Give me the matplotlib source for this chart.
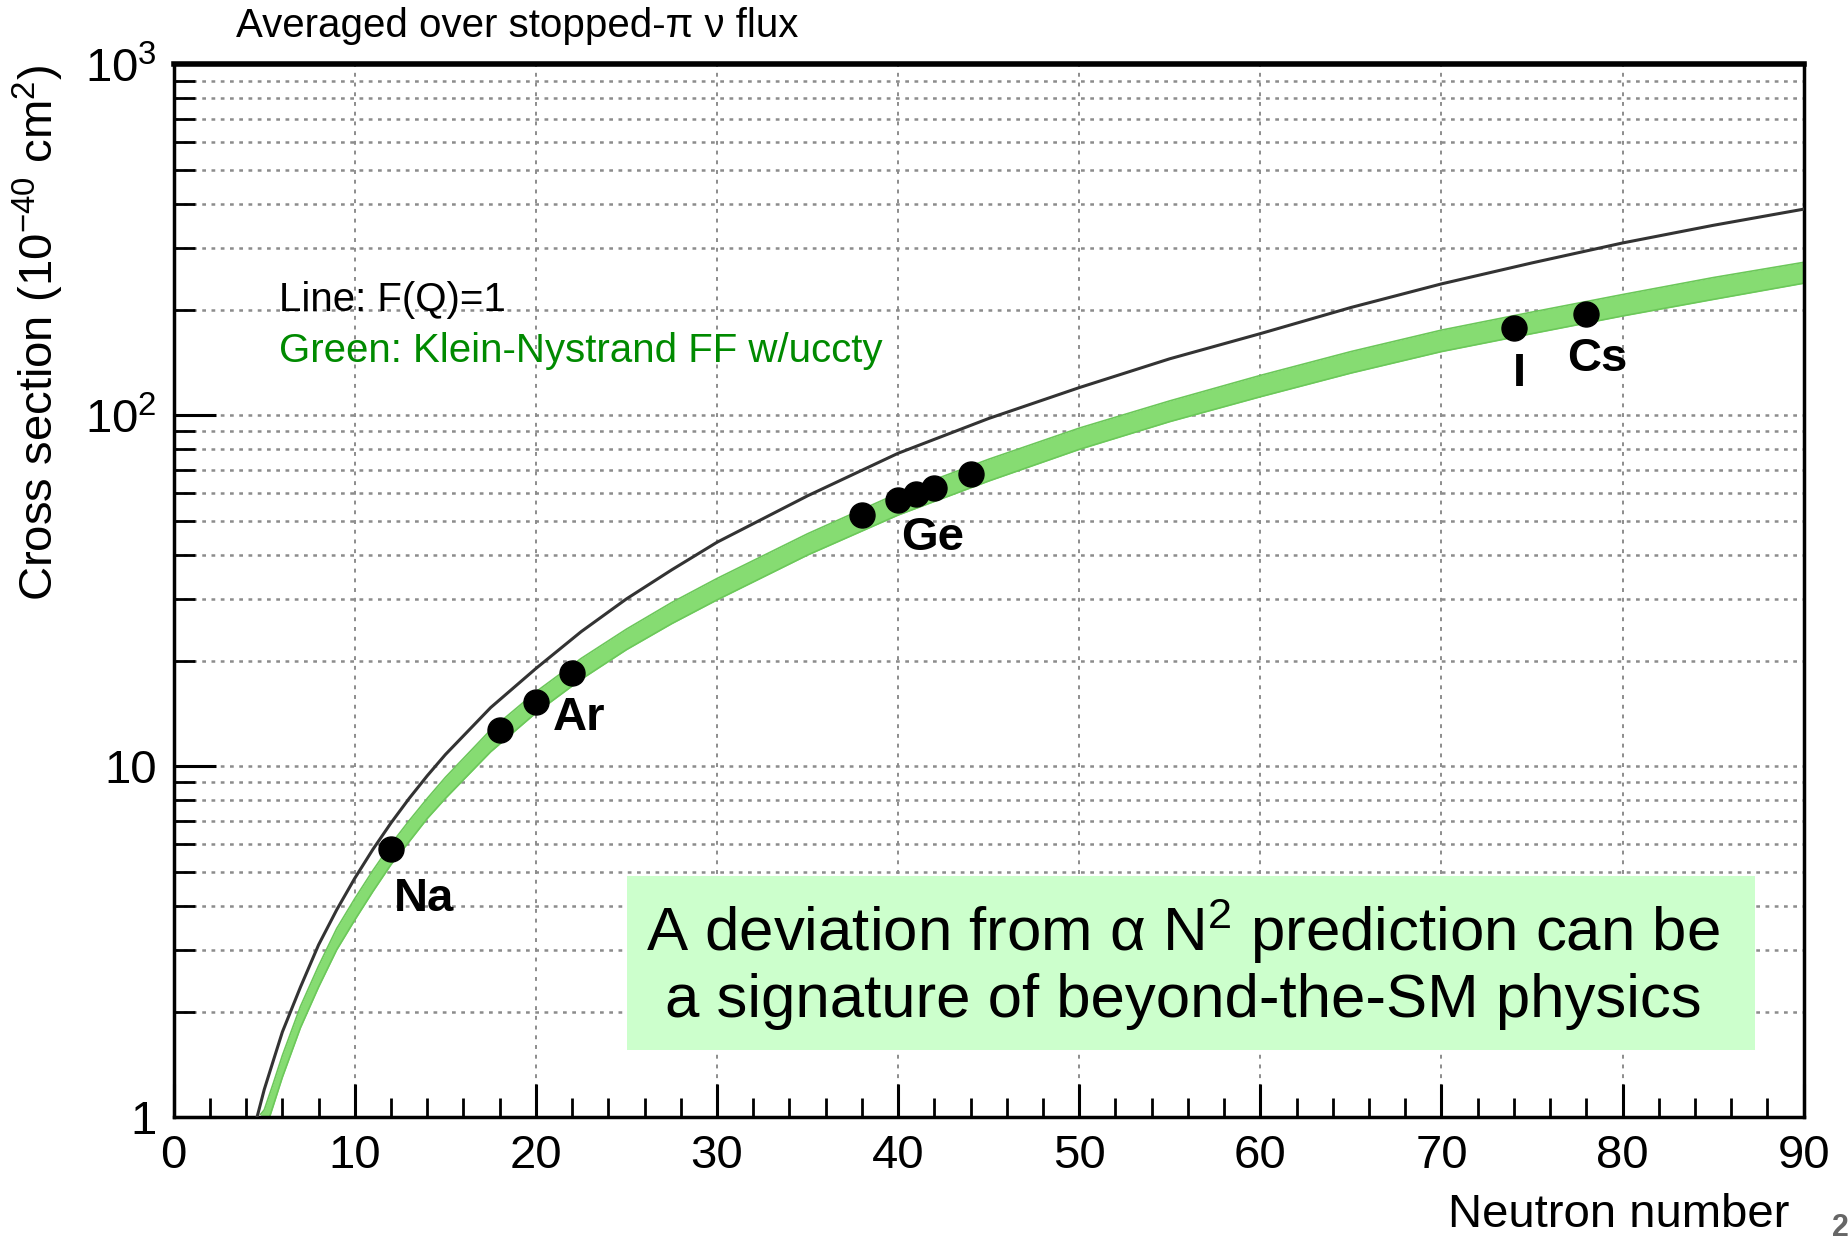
import matplotlib
matplotlib.use("Agg")
import matplotlib.pyplot as plt
import matplotlib.ticker as mticker
from matplotlib.patches import Rectangle

plt.rcParams['font.family'] = ['Liberation Sans', 'DejaVu Sans']
plt.rcParams['mathtext.fontset'] = 'custom'
plt.rcParams['mathtext.rm'] = 'Liberation Sans'
plt.rcParams['mathtext.it'] = 'Liberation Sans:italic'

# black curve, F(Q)=1
n_line = [4.6, 5, 5.5, 6, 7, 8, 9, 10, 11, 12, 13, 14, 15, 17.5, 20, 22.5, 25, 27.5, 30,
          35, 40, 45, 50, 55, 60, 65, 70, 75, 80, 85, 90]
xs_line = [1.0, 1.2, 1.45, 1.75, 2.35, 3.1, 3.9, 4.8, 5.8, 6.9, 8.1, 9.4, 10.8, 14.7, 19,
           24.2, 30, 36.3, 43.5, 59, 78, 98, 120, 145, 171, 203, 237, 272, 310, 348, 387]

# green band, Klein-Nystrand FF with uncertainty
n_band = [4.8, 5, 5.5, 6, 7, 8, 9, 10, 11, 12, 13, 14, 15, 17.5, 20, 22.5, 25, 27.5, 30,
          35, 40, 45, 50, 55, 60, 65, 70, 75, 80, 85, 90]
band_lo = [0.88, 0.9, 1.08, 1.3, 1.8, 2.35, 3.0, 3.65, 4.4, 5.25, 6.1, 7.1, 8.1, 11.0, 14.2,
           17.7, 21.5, 25.5, 29.8, 40, 52, 65, 80, 96, 113, 132, 152, 171, 192, 214, 238]
band_hi = [1.02, 1.05, 1.25, 1.5, 2.07, 2.7, 3.45, 4.2, 5.05, 6.0, 7.0, 8.1, 9.3, 12.7, 16.3,
           20.3, 24.6, 29.3, 34.3, 46, 60, 75, 92, 110, 130, 152, 175, 197, 221, 247, 273]

# isotope points
iso_n = [12, 18, 20, 22, 38, 40, 41, 42, 44, 74, 78]
iso_xs = [5.8, 12.7, 15.3, 18.5, 52, 57.5, 59.8, 62.2, 68.2, 177, 195]

# element labels
elem_names = ['Na', 'Ar', 'Ge', 'I', 'Cs']
elem_x = [13.8, 22.4, 41.9, 74.3, 78.6]
elem_y = [4.2, 13.7, 44.6, 131, 145]

fig = plt.figure(figsize=(18.48, 12.4), dpi=100)
ax = fig.add_axes([0.094, 0.099, 0.882, 0.849])

ax.set_yscale('log')
ax.set_xlim(0, 90)
ax.set_ylim(1, 1000)

# grid
for gx in range(10, 90, 10):
    ax.axvline(gx, color='#8c8c8c', lw=1.4, ls=(0, (2, 3)), zorder=0)
for dec in [1, 10, 100]:
    for m in range(2, 11):
        ax.axhline(m * dec, color='#8c8c8c', lw=1.8, ls=(0, (1.5, 2.2)), zorder=0)

ax.fill_between(n_band, band_lo, band_hi, color='#86dc72', lw=0, zorder=2)
ax.plot(n_band, band_lo, color='#6cc85a', lw=1.2, zorder=2)
ax.plot(n_band, band_hi, color='#6cc85a', lw=1.2, zorder=2)
ax.plot(n_line, xs_line, color='#333333', lw=2.2, zorder=3)
ax.plot(iso_n, iso_xs, 'o', color='black', ms=18, zorder=4)

for name, x, y in zip(elem_names, elem_x, elem_y):
    ax.text(x, y, name, fontsize=34, fontweight='bold', ha='center', va='center', zorder=5)

# ticks
ax.xaxis.set_major_locator(mticker.MultipleLocator(10))
ax.xaxis.set_minor_locator(mticker.MultipleLocator(2))
ax.yaxis.set_major_locator(mticker.FixedLocator([1, 10, 100, 1000]))
ax.yaxis.set_major_formatter(mticker.FixedFormatter(['1', '10', r'$10^{2}$', r'$10^{3}$']))
ax.yaxis.set_minor_locator(mticker.LogLocator(base=10, subs=range(2, 10)))
ax.yaxis.set_minor_formatter(mticker.NullFormatter())
ax.tick_params(axis='x', which='major', direction='in', length=24, width=2.2, labelsize=34, pad=12)
ax.tick_params(axis='x', which='minor', direction='in', length=14, width=2.0)
ax.tick_params(axis='y', which='major', direction='in', length=30, width=2.2, labelsize=34, pad=12)
ax.tick_params(axis='y', which='minor', direction='in', length=15, width=2.0)
for s in ax.spines.values():
    s.set_linewidth(2.5)
ax.spines['top'].set_linewidth(4)

ax.set_ylabel(r'Cross section (10$^{-40}$ cm$^{2}$)', fontsize=34, loc='top')
ax.yaxis.set_label_coords(-0.066, 1.0)
ax.set_xlabel('Neutron number', fontsize=34, loc='right')
ax.xaxis.set_label_coords(0.991, -0.072)

fig.text(236 / 1848, 1 - 26 / 1240, 'Averaged over stopped-π ν flux', fontsize=29, va='center')
fig.text(279 / 1848, 1 - 300 / 1240, 'Line: F(Q)=1', fontsize=29, va='center')
fig.text(279 / 1848, 1 - 351 / 1240, 'Green: Klein-Nystrand FF w/uccty', fontsize=29,
         va='center', color='#008a00')

fig.add_artist(Rectangle((627 / 1848, 1 - 1050 / 1240), 1128 / 1848, 174 / 1240,
                         transform=fig.transFigure, facecolor='#ccffcc', edgecolor='none', zorder=6))
fig.text(1183 / 1848, 1 - 963 / 1240,
         'A deviation from α N$^{2}$ prediction can be\na signature of beyond-the-SM physics',
         fontsize=44.5, ha='center', va='center', linespacing=1.15, zorder=7)

fig.text(1832 / 1848, 1 - 1228 / 1240, '2', fontsize=22, fontweight='bold', color='#666666',
         va='center', ha='left')

fig.savefig('out.png', dpi=100)
